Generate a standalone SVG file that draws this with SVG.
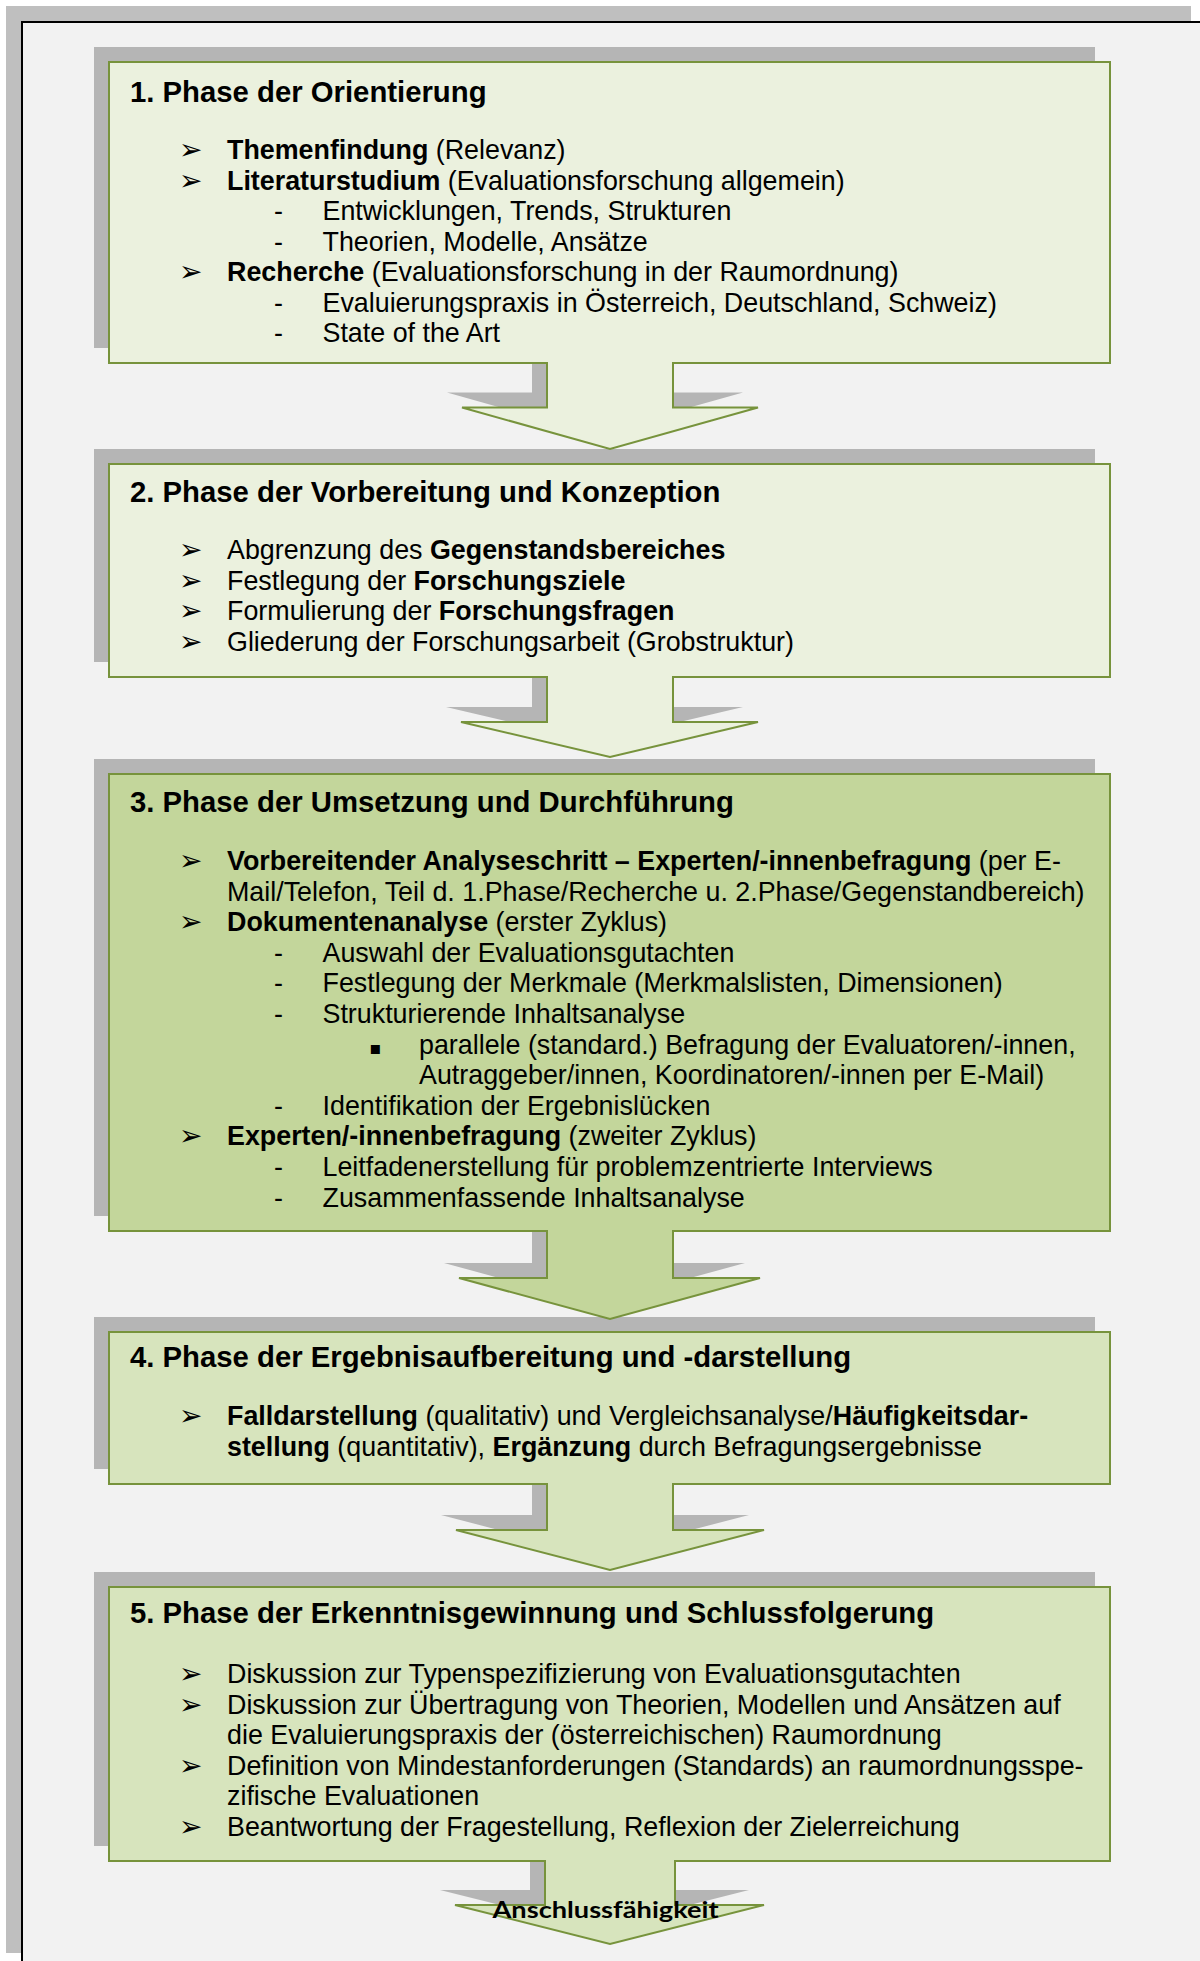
<svg xmlns="http://www.w3.org/2000/svg" width="1200" height="1961" viewBox="0 0 1200 1961">
<style>
.t{font-family:"Liberation Sans",Arial,sans-serif;font-size:26.85px;fill:#000}
.h{font-weight:bold;font-size:29.3px}
.b{font-weight:bold}
.bl{font-family:"DejaVu Sans",sans-serif;font-size:28px;fill:#000}
.sq{font-family:"DejaVu Sans",sans-serif;font-size:18px;fill:#000}
.box{stroke:#77933c;stroke-width:2}
.sh{fill:#b5b5b5}
.g1{fill:#ebf1de}
.g3{fill:#c3d69b}
.g4{fill:#d7e4bd}
.ol{fill:none;stroke:#77933c;stroke-width:2;stroke-linejoin:miter}
.lab{font-family:Lato,"Open Sans",sans-serif;font-weight:bold;font-size:23px;fill:#000}
</style>
<rect width="1200" height="1961" fill="#ffffff"/>
<g id="page">
<rect x="6" y="6" width="1185" height="1947" fill="#bfbfbf"/>
<rect x="22" y="22" width="1200" height="1960" fill="#f2f2f2" stroke="#000" stroke-width="2"/>
</g>

<g id="node1">
<rect class="sh" x="94" y="47" width="1001" height="301"/>
<rect class="box g1" x="109" y="62" width="1001" height="301"/>
<text class="t h" x="130" y="101.7">1. Phase der Orientierung</text>
<text class="bl" x="179" y="159">➢</text>
<text class="t" x="227" y="159"><tspan class="b">Themenfindung</tspan> (Relevanz)</text>
<text class="bl" x="179" y="189.5">➢</text>
<text class="t" x="227" y="189.5"><tspan class="b">Literaturstudium</tspan> (Evaluationsforschung allgemein)</text>
<text class="t" x="274" y="220">-</text>
<text class="t" x="322.5" y="220">Entwicklungen, Trends, Strukturen</text>
<text class="t" x="274" y="250.5">-</text>
<text class="t" x="322.5" y="250.5">Theorien, Modelle, Ansätze</text>
<text class="bl" x="179" y="281">➢</text>
<text class="t" x="227" y="281"><tspan class="b">Recherche</tspan> (Evaluationsforschung in der Raumordnung)</text>
<text class="t" x="274" y="311.5">-</text>
<text class="t" x="322.5" y="311.5">Evaluierungspraxis in Österreich, Deutschland, Schweiz)</text>
<text class="t" x="274" y="342">-</text>
<text class="t" x="322.5" y="342">State of the Art</text>
</g>

<g id="node2">
<rect class="sh" x="94" y="449" width="1001" height="213"/>
<rect class="box g1" x="109" y="464" width="1001" height="213"/>
<text class="t h" x="130" y="501.7">2. Phase der Vorbereitung und Konzeption</text>
<text class="bl" x="179" y="559">➢</text>
<text class="t" x="227" y="559">Abgrenzung des <tspan class="b">Gegenstandsbereiches</tspan></text>
<text class="bl" x="179" y="589.5">➢</text>
<text class="t" x="227" y="589.5">Festlegung der <tspan class="b">Forschungsziele</tspan></text>
<text class="bl" x="179" y="620">➢</text>
<text class="t" x="227" y="620">Formulierung der <tspan class="b">Forschungsfragen</tspan></text>
<text class="bl" x="179" y="650.5">➢</text>
<text class="t" x="227" y="650.5">Gliederung der Forschungsarbeit (Grobstruktur)</text>
</g>

<g id="node3">
<rect class="sh" x="94" y="759" width="1001" height="457"/>
<rect class="box g3" x="109" y="774" width="1001" height="457"/>
<text class="t h" x="130" y="811.7">3. Phase der Umsetzung und Durchführung</text>
<text class="bl" x="179" y="870">➢</text>
<text class="t" x="227" y="870"><tspan class="b">Vorbereitender Analyseschritt – Experten/-innenbefragung</tspan> (per E-</text>
<text class="t" x="227" y="900.6">Mail/Telefon, Teil d. 1.Phase/Recherche u. 2.Phase/Gegenstandbereich)</text>
<text class="bl" x="179" y="931.2">➢</text>
<text class="t" x="227" y="931.2"><tspan class="b">Dokumentenanalyse</tspan> (erster Zyklus)</text>
<text class="t" x="274" y="961.8">-</text>
<text class="t" x="322.5" y="961.8">Auswahl der Evaluationsgutachten</text>
<text class="t" x="274" y="992.4">-</text>
<text class="t" x="322.5" y="992.4">Festlegung der Merkmale (Merkmalslisten, Dimensionen)</text>
<text class="t" x="274" y="1023">-</text>
<text class="t" x="322.5" y="1023">Strukturierende Inhaltsanalyse</text>
<text class="sq" x="369" y="1053.6">▪</text>
<text class="t" x="419" y="1053.6">parallele (standard.) Befragung der Evaluatoren/-innen,</text>
<text class="t" x="419" y="1084.2">Autraggeber/innen, Koordinatoren/-innen per E-Mail)</text>
<text class="t" x="274" y="1114.8">-</text>
<text class="t" x="322.5" y="1114.8">Identifikation der Ergebnislücken</text>
<text class="bl" x="179" y="1145.4">➢</text>
<text class="t" x="227" y="1145.4"><tspan class="b">Experten/-innenbefragung</tspan> (zweiter Zyklus)</text>
<text class="t" x="274" y="1176">-</text>
<text class="t" x="322.5" y="1176">Leitfadenerstellung für problemzentrierte Interviews</text>
<text class="t" x="274" y="1206.6">-</text>
<text class="t" x="322.5" y="1206.6">Zusammenfassende Inhaltsanalyse</text>
</g>

<g id="node4">
<rect class="sh" x="94" y="1317" width="1001" height="152"/>
<rect class="box g4" x="109" y="1332" width="1001" height="152"/>
<text class="t h" x="130" y="1367.3">4. Phase der Ergebnisaufbereitung und -darstellung</text>
<text class="bl" x="179" y="1425">➢</text>
<text class="t" x="227" y="1425"><tspan class="b">Falldarstellung</tspan> (qualitativ) und Vergleichsanalyse/<tspan class="b">Häufigkeitsdar-</tspan></text>
<text class="t" x="227" y="1456"><tspan class="b">stellung</tspan> (quantitativ), <tspan class="b">Ergänzung</tspan> durch Befragungsergebnisse</text>
</g>

<g id="node5">
<rect class="sh" x="94" y="1572" width="1001" height="274"/>
<rect class="box g4" x="109" y="1587" width="1001" height="274"/>
<text class="t h" x="130" y="1623.3">5. Phase der Erkenntnisgewinnung und Schlussfolgerung</text>
<text class="bl" x="179" y="1683">➢</text>
<text class="t" x="227" y="1683">Diskussion zur Typenspezifizierung von Evaluationsgutachten</text>
<text class="bl" x="179" y="1713.5">➢</text>
<text class="t" x="227" y="1713.5">Diskussion zur Übertragung von Theorien, Modellen und Ansätzen auf</text>
<text class="t" x="227" y="1744">die Evaluierungspraxis der (österreichischen) Raumordnung</text>
<text class="bl" x="179" y="1774.5">➢</text>
<text class="t" x="227" y="1774.5">Definition von Mindestanforderungen (Standards) an raumordnungsspe-</text>
<text class="t" x="227" y="1805">zifische Evaluationen</text>
<text class="bl" x="179" y="1835.5">➢</text>
<text class="t" x="227" y="1835.5">Beantwortung der Fragestellung, Reflexion der Zielerreichung</text>
</g>

<g id="connectors">
<g id="arrow1">
<path class="sh" d="M532 364 V392.5 H447 L595 434 L743 392.5 H658 V364 Z"/>
<path class="g1" d="M548 361 V407.5 H462 L610 449 L758 407.5 H672 V361 Z"/>
<path class="ol" d="M547 363 V407.5 H462 L610 449 L758 407.5 H673 V363"/>
</g>
<g id="arrow2">
<path class="sh" d="M532 678 V707 H446 L595 742 L743 707 H658 V678 Z"/>
<path class="g1" d="M548 675 V722 H461 L610 757 L758 722 H672 V675 Z"/>
<path class="ol" d="M547 677 V722 H461 L610 757 L758 722 H673 V677"/>
</g>
<g id="arrow3">
<path class="sh" d="M532 1232 V1263 H444 L595 1304 L745 1263 H658 V1232 Z"/>
<path class="g3" d="M548 1229 V1278 H459 L610 1319 L760 1278 H672 V1229 Z"/>
<path class="ol" d="M547 1231 V1278 H459 L610 1319 L760 1278 H673 V1231"/>
</g>
<g id="arrow4">
<path class="sh" d="M532 1485 V1515 H441 L595 1555 L749 1515 H658 V1485 Z"/>
<path class="g4" d="M548 1482 V1530 H456 L610 1570 L764 1530 H672 V1482 Z"/>
<path class="ol" d="M547 1484 V1530 H456 L610 1570 L764 1530 H673 V1484"/>
</g>
<g id="arrow5">
<path class="sh" d="M530 1862 V1890 H440 L595 1929 L749 1890 H660 V1862 Z"/>
<path class="g4" d="M546 1859 V1905 H455 L610 1944 L764 1905 H674 V1859 Z"/>
<path class="ol" d="M545 1861 V1905 H455 L610 1944 L764 1905 H675 V1861"/>
<text class="lab" x="605.5" y="1918" text-anchor="middle" textLength="226" lengthAdjust="spacingAndGlyphs">Anschlussfähigkeit</text>
</g>
</g>
</svg>
